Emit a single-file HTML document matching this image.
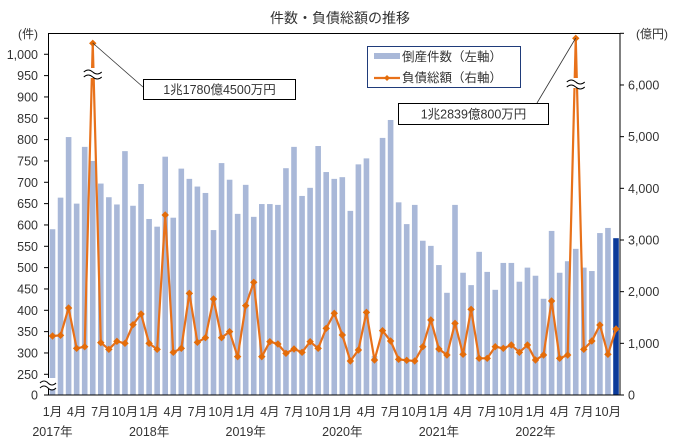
<!DOCTYPE html>
<html><head><meta charset="utf-8"><style>
html,body{margin:0;padding:0;background:#fff;width:678px;height:448px;overflow:hidden}
svg text{font-family:"Liberation Sans","Noto Sans CJK JP",sans-serif;fill:#333}
</style></head><body>
<svg id="c" width="678" height="448" xmlns="http://www.w3.org/2000/svg">
<text x="340" y="23" font-size="14" text-anchor="middle">件数・負債総額の推移</text>
</svg>
<script>
var s=document.getElementById('c'),ns='http://www.w3.org/2000/svg';
function el(t,a,txt){var e=document.createElementNS(ns,t);for(var k in a)e.setAttribute(k,a[k]);if(txt!=null)e.textContent=txt;s.appendChild(e);return e;}
var bars=[590,664,806,650,783,750,697,665,648,773,645,696,
614,596,760,617,732,708,690,675,588,745,706,626,
694,619,649,649,647,733,783,668,687,785,724,708,
712,633,742,756,293,804,846,653,602,647,563,551,
506,441,647,488,459,537,490,448,511,511,467,500,
481,427,586,488,515,544,500,492,581,593,569];
var line=[1142,1155,1684,903,935,null,1013,884,1039,1000,1361,1568,
1000,884,3484,826,903,1968,1019,1109,1858,1109,1226,742,
1729,2181,742,1032,987,806,890,826,1032,903,1290,1581,
1161,658,871,1600,677,1245,1045,690,671,658,935,1452,
890,774,1387,787,1658,710,710,935,903,968,826,968,
677,774,1819,710,774,null,884,1045,1355,787,1277];
function cx(i){return 52.5+8.05*i;}
function yL(v){return 374.3-(v-250)*0.4267;}
function yR(v){return 395-v*0.05167;}
// bars
bars.forEach(function(v,i){el('rect',{x:cx(i)-2.8,y:yL(v),width:5.6,height:395-yL(v),fill:i==70?'#0b3a9a':'#a9b8d8'});});
// frame
el('rect',{x:48.5,y:33.5,width:571.5,height:361.5,fill:'none',stroke:'#000','stroke-width':1});
// left ticks/labels
el('text',{x:28,y:38,'font-size':12,'text-anchor':'middle'},'(件)');
for(var v=250;v<=1000;v+=50){var y=yL(v);el('line',{x1:44,x2:48.5,y1:y,y2:y,stroke:'#000'});el('text',{x:38,y:y+4.5,'font-size':12.5,'text-anchor':'end'},v>=1000?'1,000':String(v));}
el('line',{x1:44,x2:48.5,y1:395,y2:395,stroke:'#000'});
el('text',{x:38,y:399.5,'font-size':12.5,'text-anchor':'end'},'0');
// right
el('text',{x:652,y:38,'font-size':12,'text-anchor':'middle'},'(億円)');
for(var r=0;r<=7000;r+=1000){var y=yR(r);el('line',{x1:620,x2:624,y1:y,y2:y,stroke:'#000'});if(r<7000)el('text',{x:628,y:y+4.5,'font-size':12.5},r==0?'0':(r/1000)+',000');}
// left axis break
el('rect',{x:40,y:378,width:17,height:11,fill:'#fff'});
el('path',{d:'M40 383 q4 -4 8 0 t8 0 M40 388 q4 -4 8 0 t8 0',fill:'none',stroke:'#000','stroke-width':1});
// x labels
for(var i=0;i<71;i+=3){var m=(i%12)+1;el('text',{x:cx(i),y:416,'font-size':12.5,'text-anchor':'middle'},m+'月');}
for(var yr=0;yr<6;yr++){el('text',{x:cx(yr*12),y:436,'font-size':12.5,'text-anchor':'middle'},(2017+yr)+'年');}
// line
var pts=line.map(function(v,i){var y=v==null?(i==5?43.3:38.3):yR(v);return [cx(i),y];});
el('polyline',{points:pts.map(function(p){return p.join(',')}).join(' '),fill:'none',stroke:'#e8711a','stroke-width':2.2});
// spike breaks
[[cx(5),73],[cx(65),83]].forEach(function(p){el('rect',{x:p[0]-9,y:p[1]-5,width:18,height:10,fill:'#fff'});el('path',{d:'M'+(p[0]-9)+' '+(p[1]-1)+' q4.5 -4 9 0 t9 0 M'+(p[0]-9)+' '+(p[1]+4)+' q4.5 -4 9 0 t9 0',fill:'none',stroke:'#000','stroke-width':1});});
pts.forEach(function(p){el('path',{d:'M'+(p[0]-3)+' '+p[1]+'L'+p[0]+' '+(p[1]-3)+'L'+(p[0]+3)+' '+p[1]+'L'+p[0]+' '+(p[1]+3)+'Z',fill:'#e36c0a',stroke:'#e36c0a','stroke-width':1});});
// callouts
el('line',{x1:cx(5),y1:43,x2:143,y2:87,stroke:'#333','stroke-width':0.8});
el('rect',{x:143.5,y:79.5,width:152,height:20,fill:'#fff',stroke:'#000'});
el('text',{x:219.5,y:94,'font-size':12.5,'text-anchor':'middle'},'1兆1780億4500万円');
el('line',{x1:cx(65),y1:38,x2:537,y2:103,stroke:'#333','stroke-width':0.8});
el('rect',{x:398.5,y:103.5,width:150,height:21,fill:'#fff',stroke:'#000'});
el('text',{x:473.5,y:118.5,'font-size':12.5,'text-anchor':'middle'},'1兆2839億800万円');
// legend
el('rect',{x:367.5,y:46.5,width:153,height:41,fill:'#fff',stroke:'#1f3b7a'});
el('rect',{x:374,y:53,width:26,height:6,fill:'#a9b8d8'});
el('text',{x:402,y:61,'font-size':12.5},'倒産件数（左軸）');
el('line',{x1:374,x2:400,y1:78,y2:78,stroke:'#e8711a','stroke-width':2.2});
el('path',{d:'M384 78L387 75L390 78L387 81Z',fill:'#e36c0a'});
el('text',{x:402,y:82,'font-size':12.5},'負債総額（右軸）');
</script>
</body></html>
